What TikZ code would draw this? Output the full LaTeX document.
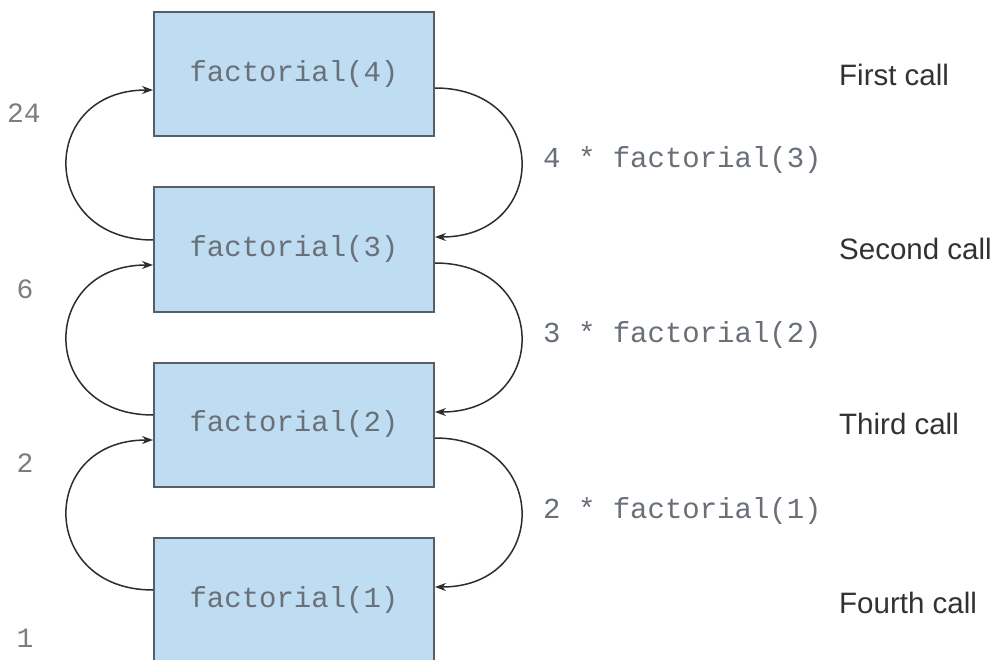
\documentclass[tikz,border=0pt]{standalone}
\usepackage{fontspec}
\setmainfont{Liberation Sans}
\newfontfamily\monofont{Liberation Mono}
\usetikzlibrary{arrows.meta}
\definecolor{boxfill}{RGB}{190,220,242}
\definecolor{boxline}{RGB}{85,95,105}
\definecolor{codetext}{RGB}{105,112,120}
\definecolor{numtext}{RGB}{125,125,125}
\definecolor{calltext}{RGB}{50,50,50}
\definecolor{arrline}{RGB}{45,45,45}
\begin{document}
\begin{tikzpicture}[x=1pt,y=-1pt,
  fbox/.style={draw=boxline, line width=2pt, fill=boxfill, minimum width=280pt, minimum height=124pt, inner sep=0pt,
    font=\monofont\fontsize{29}{32}\selectfont, text=codetext},
  numlab/.style={font=\monofont\fontsize{28}{32}\selectfont, text=numtext, inner sep=0pt},
  codelab/.style={font=\monofont\fontsize{29}{32}\selectfont, text=codetext, anchor=west, inner sep=0pt},
  calllab/.style={font=\fontsize{29.5}{33}\selectfont, text=calltext, anchor=west, inner sep=0pt},
  arr/.style={draw=arrline, line width=1.5pt, -{Stealth[length=11pt,width=8pt]}}]
\clip (0,0) rectangle (998,660);
\fill[white] (0,0) rectangle (998,660);
\node[fbox] (b1) at (294,74.5) {factorial(4)};
\node[fbox] (b2) at (294,249.5) {factorial(3)};
\node[fbox] (b3) at (294,424.5) {factorial(2)};
\node[fbox] (b4) at (294,599.5) {factorial(1)};
% left arcs (returns)
\draw[arr] ([yshift=9.5pt]b2.west) .. controls +(-115,0) and +(-115,0) .. ([yshift=-15.5pt]b1.west);
\draw[arr] ([yshift=9.5pt]b3.west) .. controls +(-115,0) and +(-115,0) .. ([yshift=-15.5pt]b2.west);
\draw[arr] ([yshift=9.5pt]b4.west) .. controls +(-115,0) and +(-115,0) .. ([yshift=-15.5pt]b3.west);
% right arcs (calls)
\draw[arr] ([yshift=-13.5pt]b1.east) .. controls +(115,0) and +(115,0) .. ([yshift=12.5pt]b2.east);
\draw[arr] ([yshift=-13.5pt]b2.east) .. controls +(115,0) and +(115,0) .. ([yshift=12.5pt]b3.east);
\draw[arr] ([yshift=-13.5pt]b3.east) .. controls +(115,0) and +(115,0) .. ([yshift=12.5pt]b4.east);
% left values
\node[numlab] (n24) at (24,113) {24};
\node[numlab] (n6) at (25,289) {6};
\node[numlab] (n2) at (25,463) {2};
\node[numlab] (n1) at (25,638) {1};
% right expressions
\node[codelab] (e3) at (543,160) {4 * factorial(3)};
\node[codelab] (e2) at (543,335) {3 * factorial(2)};
\node[codelab] (e1) at (543,511) {2 * factorial(1)};
% call labels
\node[calllab] (c1) at (839,75) {First call};
\node[calllab] (c2) at (839,249) {Second call};
\node[calllab] (c3) at (839,424) {Third call};
\node[calllab] (c4) at (839,603) {Fourth call};
\end{tikzpicture}
\end{document}
